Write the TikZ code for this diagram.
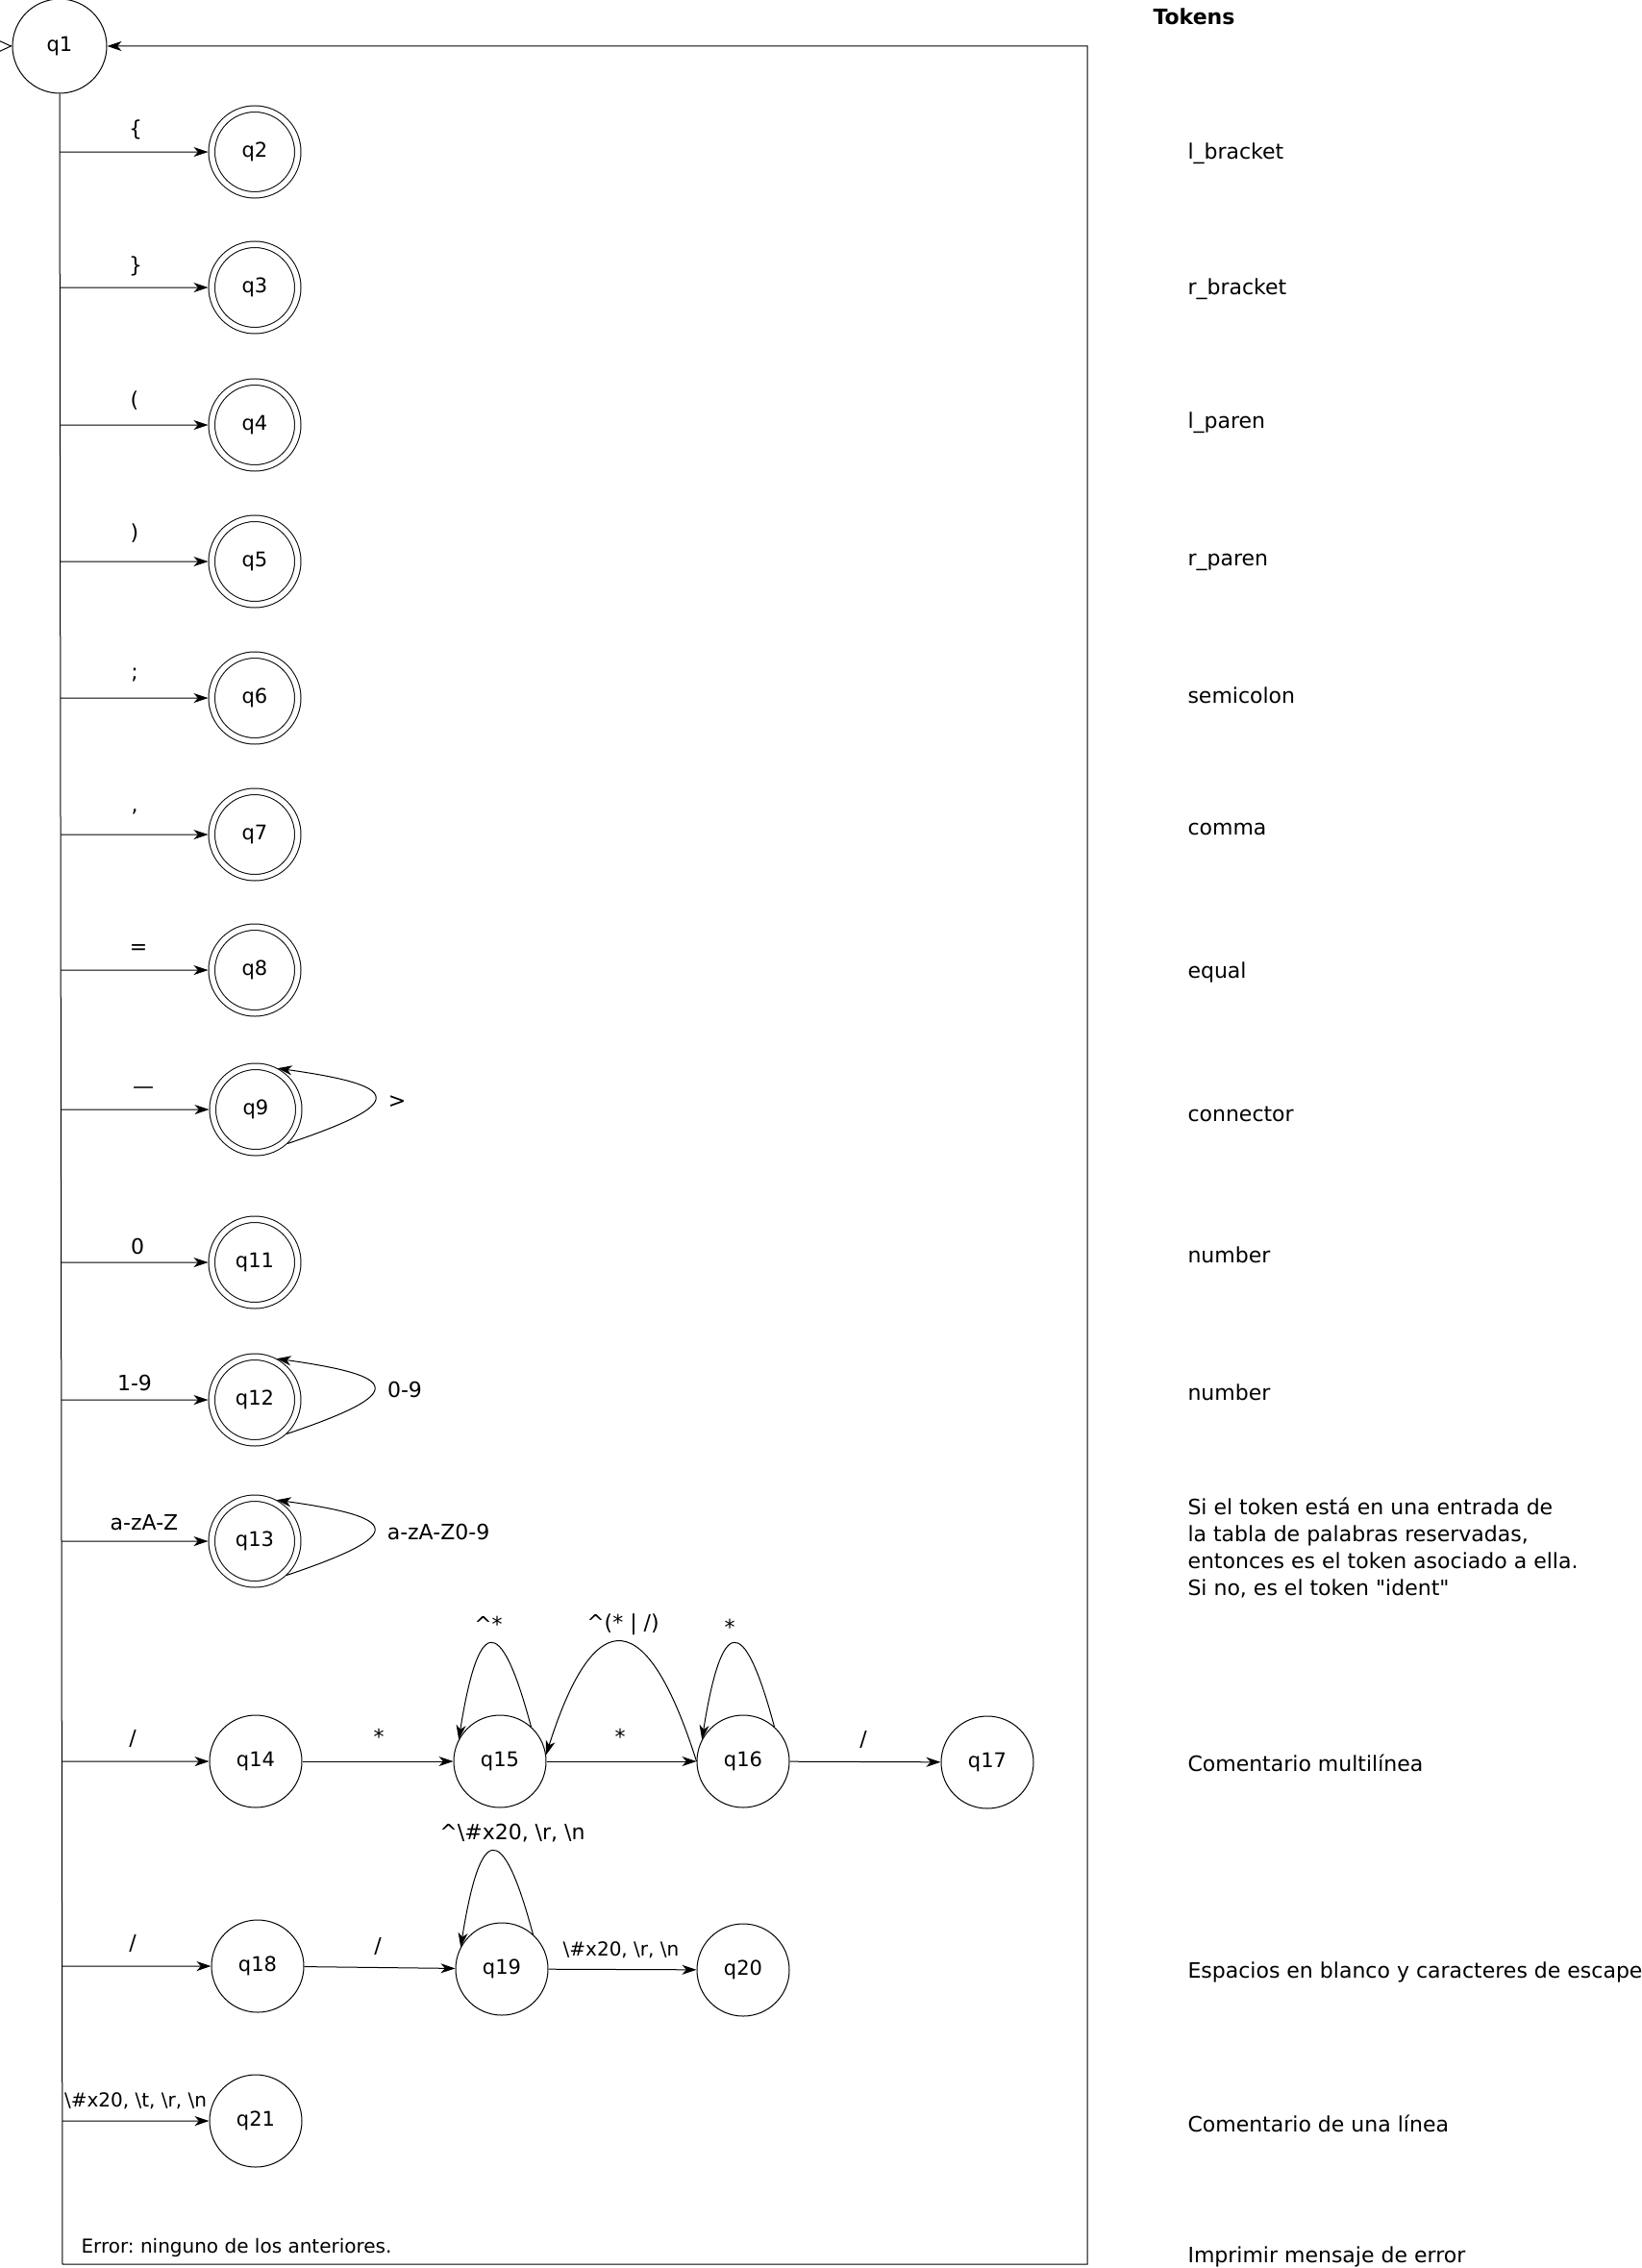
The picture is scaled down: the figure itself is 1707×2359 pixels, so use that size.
\documentclass[tikz,border=0pt]{standalone}
\usepackage{fontspec}
\setmainfont{DejaVu Sans}[Ligatures=TeXOff]
\usetikzlibrary{arrows.meta,calc}
\frenchspacing
\begin{document}
\begin{tikzpicture}[x=0.5pt,y=0.5pt,line width=0.5pt,
  arr/.style={-{Stealth[length=7.5pt,width=5pt,inset=2.2pt]}},
  st/.style={circle,draw,minimum size=48pt,inner sep=0pt,font=\fontsize{10.5}{12}\selectfont},
  acc/.style={st,double,double distance=2.75pt,minimum size=44.75pt,outer sep=1.875pt},
  lab/.style={font=\fontsize{11}{13}\selectfont,inner sep=1pt},
  smalllab/.style={font=\fontsize{10}{12}\selectfont,inner sep=1pt},
  tok/.style={anchor=west,font=\fontsize{11}{13}\selectfont,inner sep=0pt},
]
\useasboundingbox (0,0) rectangle (1707,-2359);

% states
\node[st,minimum size=49pt] (q1) at (62,-48) {q1};
\node[acc] (q2) at (265,-158) {q2};
\node[acc] (q3) at (265,-299) {q3};
\node[acc] (q4) at (265,-442) {q4};
\node[acc] (q5) at (265,-584) {q5};
\node[acc] (q6) at (265,-726) {q6};
\node[acc] (q7) at (265,-868) {q7};
\node[acc] (q8) at (265,-1009) {q8};
\node[acc] (q9) at (266,-1154) {q9};
\node[acc] (q11) at (265,-1313) {q11};
\node[acc] (q12) at (265,-1456) {q12};
\node[acc] (q13) at (265,-1603) {q13};
\node[st] (q14) at (266,-1832) {q14};
\node[st] (q15) at (520,-1832) {q15};
\node[st] (q16) at (773,-1832) {q16};
\node[st] (q17) at (1027,-1833) {q17};
\node[st] (q18) at (268,-2045) {q18};
\node[st] (q19) at (522,-2048) {q19};
\node[st] (q20) at (773,-2049) {q20};
\node[st] (q21) at (266,-2206) {q21};

% frame coordinates
\coordinate (bl) at (65,-2355);
\coordinate (br) at (1131,-2355);
\coordinate (tr) at (1131,-48);
\coordinate (init) at ($(q1.west)+(-2,0)$);

% initial marker
\draw[-{Straight Barb[length=6.5pt,width=6pt]}] (init) -- (q1.west);

% frame / return loop
\draw[arr] (q1.south) -- (bl) -- (br) -- (tr) -- (q1.east);

% branches from the trunk
\draw[arr] ($(q1.south)!(q2.west)!(bl)$) -- (q2) node[lab] at (141,-135) {\{};
\draw[arr] ($(q1.south)!(q3.west)!(bl)$) -- (q3) node[lab] at (141,-277) {\}};
\draw[arr] ($(q1.south)!(q4.west)!(bl)$) -- (q4) node[lab] at (140,-417) {(};
\draw[arr] ($(q1.south)!(q5.west)!(bl)$) -- (q5) node[lab] at (140,-555) {)};
\draw[arr] ($(q1.south)!(q6.west)!(bl)$) -- (q6) node[lab] at (140,-702) {;};
\draw[arr] ($(q1.south)!(q7.west)!(bl)$) -- (q7) node[lab] at (140,-844) {,};
\draw[arr] ($(q1.south)!(q8.west)!(bl)$) -- (q8) node[lab] at (144,-987) {=};
\draw[arr] ($(q1.south)!(q9.west)!(bl)$) -- (q9) node[lab] at (149,-1134) {—};
\draw[arr] ($(q1.south)!(q11.west)!(bl)$) -- (q11) node[lab] at (143,-1296) {0};
\draw[arr] ($(q1.south)!(q12.west)!(bl)$) -- (q12) node[lab] at (140,-1438) {1-9};
\draw[arr] ($(q1.south)!(q13.west)!(bl)$) -- (q13) node[lab] at (150,-1584) {a-zA-Z};
\draw[arr] ($(q1.south)!(q14.west)!(bl)$) -- (q14) node[lab] at (138,-1808) {/};
\draw[arr] ($(q1.south)!(q18.west)!(bl)$) -- (q18) node[lab] at (138,-2021) {/};
\draw[arr] ($(q1.south)!(q21.west)!(bl)$) -- (q21) node[smalllab] at (141,-2185)
  {\textbackslash\#x20, \textbackslash t, \textbackslash r, \textbackslash n};

% self loops on q9, q12, q13
\draw[arr] (q9.-47) .. controls +(128,43) and +(128,-18) .. (q9.62);
\node[lab] (l9) at (413,-1146) {>};
\draw[arr] (q12.-47) .. controls +(128,43) and +(128,-18) .. (q12.62);
\node[lab] (l12) at (421,-1445) {0-9};
\draw[arr] (q13.-47) .. controls +(128,43) and +(128,-18) .. (q13.62);
\node[lab] (l13) at (456,-1593) {a-zA-Z0-9};

% multi-line comment chain
\draw[arr] (q14) -- (q15) node[lab] at (394,-1806) {*};
\draw[arr] (q15) -- (q16) node[lab] at (645,-1806) {*};
\draw[arr] (q16) -- (q17) node[lab] at (898,-1809) {/};
\draw[arr] (q15.48) .. controls +(-33,123) and +(20,125) .. (q15.152);
\node[lab] (l15) at (508,-1689) {\textasciicircum*};
\draw[arr] (q16.48) .. controls +(-33,123) and +(20,125) .. (q16.152);
\node[lab] (l16) at (759,-1692) {*};
\draw[arr] (q16.180) .. controls +(-51,161) and +(51,161) .. (q15.8);
\node[lab] (l1615) at (648,-1690) {\textasciicircum(* | /)};

% single-line comment chain
\draw[arr] (q18) -- (q19) node[lab] at (393,-2024) {/};
\draw[arr] (q19) -- (q20) node[smalllab] at (646,-2028)
  {\textbackslash\#x20, \textbackslash r, \textbackslash n};
\draw[arr] (q19.48) .. controls +(-33,123) and +(20,125) .. (q19.152);
\node[lab] (l19) at (533,-1907)
  {\textasciicircum\textbackslash\#x20, \textbackslash r, \textbackslash n};

% error text
\node[smalllab] (err) at (246,-2338) {Error: ninguno de los anteriores.};

% token column
\node[tok,font=\fontsize{11}{13}\selectfont\bfseries] (tokens) at (1199,-17) {Tokens};
\node[tok] (t2) at (1235,-160) {l\_bracket};
\node[tok] (t3) at (1235,-301) {r\_bracket};
\node[tok] (t4) at (1235,-440) {l\_paren};
\node[tok] (t5) at (1235,-585) {r\_paren};
\node[tok] (t6) at (1235,-723) {semicolon};
\node[tok] (t7) at (1235,-862) {comma};
\node[tok] (t8) at (1235,-1011) {equal};
\node[tok] (t9) at (1235,-1159) {connector};
\node[tok] (t11) at (1235,-1305) {number};
\node[tok] (t12) at (1235,-1448) {number};
\node[tok,align=left,font=\fontsize{11}{13.85}\selectfont] (t13) at (1235,-1610)
  {Si el token está en una entrada de\\la tabla de palabras reservadas,\\entonces es el token asociado a ella.\\Si no, es el token "ident"};
\node[tok] (t14) at (1235,-1834) {Comentario multilínea};
\node[tok] (t18) at (1235,-2051) {Espacios en blanco y caracteres de escape};
\node[tok] (t21) at (1235,-2209) {Comentario de una línea};
\node[tok] (terr) at (1235,-2347) {Imprimir mensaje de error};
\end{tikzpicture}
\end{document}
